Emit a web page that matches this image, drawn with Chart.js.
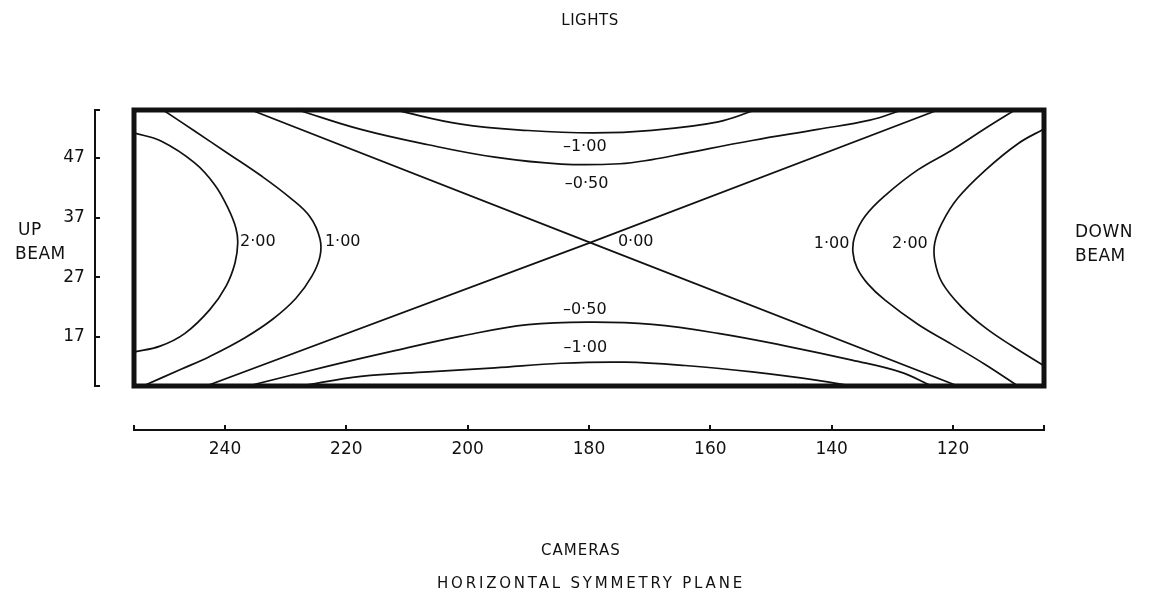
<!DOCTYPE html>
<html>
<head>
<meta charset="utf-8">
<script src="https://cdn.jsdelivr.net/npm/chart.js@4/dist/chart.umd.min.js"></script>
<style>
  html, body { margin: 0; padding: 0; background: #ffffff; }
  canvas { display: block; }
</style>
</head>
<body>
<canvas id="chart" width="1149" height="598"></canvas>
<script>
// Camera angle (horizontal) and beam angle (vertical) extents of the frame
const cameraRange = [105, 255];
const beamRange = [8.8, 55];
const cameraTicks = [255, 240, 220, 200, 180, 160, 140, 120, 105];
const cameraTickLabels = [240, 220, 200, 180, 160, 140, 120];
const beamTicks = [8.8, 17, 27, 37, 47, 55];
const beamTickLabels = [17, 27, 37, 47];

// Contour lines as [camera, beam] pairs
const level200Left = [[255, 51.17], [250.55, 49.8], [244.95, 46.1], [241.65, 42.41], [239.5, 38.56], [238.2, 35.22], [237.9, 32.72], [238.35, 29.39], [239.8, 25.57], [242.5, 21.58], [246.6, 17.61], [250.7, 15.47], [255, 14.5]];
const level100Left = [[250.2, 55], [244.95, 51.43], [239.5, 47.73], [234.1, 44.03], [229.3, 40.33], [226.0, 37.14], [224.35, 33.46], [224.35, 30.46], [225.7, 27.14], [228.3, 23.49], [232.1, 20.01], [236.7, 16.88], [242.5, 13.75], [247.25, 11.6], [253.5, 8.8]];
const level000Falling = [[235.7, 55], [179.8, 32.8], [119.2, 8.8]];
const level000Rising = [[243.1, 8.8], [179.8, 32.8], [122.5, 55]];
const levelM050Upper = [[227.97, 55], [217.6, 51.75], [206.5, 49.18], [195.5, 47.1], [184.6, 45.95], [174.9, 46.0], [169.6, 46.7], [164.2, 47.75], [153.1, 49.9], [142.3, 51.75], [133.7, 53.3], [128.4, 55]];
const levelM100Upper = [[212.0, 55], [201.1, 52.63], [190.05, 51.57], [179.3, 51.17], [169.6, 51.6], [158.7, 53.02], [152.6, 55]];
const levelM050Lower = [[236.2, 8.8], [223.0, 12.12], [212.0, 14.71], [201.1, 17.14], [190.05, 19.07], [179.3, 19.5], [169.6, 19.1], [158.7, 17.61], [147.7, 15.53], [136.65, 13.13], [128.75, 11.16], [123.5, 8.8]];
const levelM100Lower = [[227.5, 8.8], [217.6, 10.42], [206.5, 11.18], [195.5, 11.85], [184.6, 12.61], [174.1, 12.79], [164.2, 12.23], [153.1, 11.15], [142.3, 9.75], [136.65, 8.8]];
const level100Right = [[109.8, 55], [114.7, 51.9], [120.2, 48.27], [125.8, 44.97], [131.2, 40.67], [134.5, 37.2], [136.2, 33.87], [136.5, 31.21], [135.8, 28.54], [134.0, 25.86], [131.2, 23.17], [125.8, 19.14], [120.2, 15.77], [114.7, 12.4], [109.3, 8.8]];
const level200Right = [[105, 51.83], [109.3, 49.36], [114.7, 44.9], [119.2, 40.26], [121.8, 36.11], [123.0, 32.79], [123.0, 29.79], [121.8, 26.11], [118.5, 21.92], [114.7, 18.56], [110.3, 15.53], [105, 12.17]];

// Contour value labels and where they sit (camera, beam)
const labelTexts = ['2·00', '1·00', '0·00', '1·00', '2·00', '–1·00', '–0·50', '–0·50', '–1·00'];
const labelCamera = [234.6, 220.6, 172.3, 140.0, 127.1, 180.7, 180.4, 180.7, 180.6];
const labelBeam = [33.0, 32.9, 32.95, 32.65, 32.6, 48.8, 42.7, 21.5, 15.2];

const INK = '#111111';
const FONT = '"DejaVu Sans", "Liberation Sans", sans-serif';

const toPoints = arr => arr.map(([x, y]) => ({ x, y }));

function contour(data, tension) {
  return {
    data: toPoints(data),
    showLine: true,
    borderColor: INK,
    borderWidth: 1.7,
    pointRadius: 0,
    tension: tension,
    fill: false
  };
}

// Thick frame around the plotted region, traced along the axis limits
const frame = [
  [cameraRange[1], beamRange[0]], [cameraRange[0], beamRange[0]],
  [cameraRange[0], beamRange[1]], [cameraRange[1], beamRange[1]],
  [cameraRange[1], beamRange[0]]
];

const textLayer = {
  id: 'textLayer',
  afterDatasetsDraw(chart) {
    const { ctx, scales: { x, y } } = chart;
    const spacing = v => { if ('letterSpacing' in ctx) ctx.letterSpacing = v; };
    ctx.save();
    ctx.fillStyle = INK;
    ctx.textBaseline = 'middle';

    // contour values
    ctx.font = '16px ' + FONT;
    ctx.textAlign = 'center';
    labelTexts.forEach((t, i) => {
      ctx.fillText(t, x.getPixelForValue(labelCamera[i]), y.getPixelForValue(labelBeam[i]));
    });

    // captions
    ctx.font = '15px ' + FONT;
    spacing('0.5px');
    ctx.fillText('LIGHTS', 590, 21);
    spacing('1px');
    ctx.fillText('CAMERAS', 581, 551);
    spacing('2.8px');
    ctx.fillText('HORIZONTAL SYMMETRY PLANE', 591, 584);

    ctx.font = '17px ' + FONT;
    spacing('0.5px');
    ctx.textAlign = 'left';
    ctx.fillText('UP', 18, 231);
    ctx.fillText('BEAM', 15, 255);
    ctx.fillText('DOWN', 1075, 233);
    ctx.fillText('BEAM', 1075, 257);
    ctx.restore();
  }
};

new Chart(document.getElementById('chart'), {
  type: 'scatter',
  data: {
    datasets: [
      contour(level200Left, 0.4),
      contour(level100Left, 0.4),
      contour(level000Falling, 0),
      contour(level000Rising, 0),
      contour(levelM050Upper, 0.4),
      contour(levelM100Upper, 0.4),
      contour(levelM050Lower, 0.4),
      contour(levelM100Lower, 0.4),
      contour(level100Right, 0.4),
      contour(level200Right, 0.4),
      {
        data: toPoints(frame),
        showLine: true,
        borderColor: INK,
        borderWidth: 5,
        borderJoinStyle: 'miter',
        borderCapStyle: 'square',
        pointRadius: 0,
        tension: 0,
        clip: false
      }
    ]
  },
  options: {
    responsive: false,
    devicePixelRatio: 1,
    animation: false,
    events: [],
    layout: { padding: { left: 134, right: 105, top: 110, bottom: 212 } },
    plugins: { legend: { display: false }, tooltip: { enabled: false } },
    scales: {
      x: {
        type: 'linear',
        reverse: true,
        min: cameraRange[0],
        max: cameraRange[1],
        position: { y: 1.45 },
        afterBuildTicks: s => { s.ticks = cameraTicks.map(v => ({ value: v })); },
        grid: { drawOnChartArea: false, drawTicks: true, tickLength: -6, color: INK, lineWidth: 2 },
        border: { display: true, color: INK, width: 2 },
        ticks: {
          autoSkip: false,
          maxRotation: 0,
          padding: 15,
          color: INK,
          font: { family: FONT, size: 17 },
          callback: v => cameraTickLabels.includes(v) ? String(v) : ''
        }
      },
      y: {
        type: 'linear',
        min: beamRange[0],
        max: beamRange[1],
        position: { x: 261.4 },
        afterBuildTicks: s => { s.ticks = beamTicks.map(v => ({ value: v })); },
        grid: { drawOnChartArea: false, drawTicks: true, tickLength: -6, color: INK, lineWidth: 2 },
        border: { display: true, color: INK, width: 2 },
        ticks: { display: false }
      },
      beamLabels: {
        axis: 'y',
        type: 'linear',
        min: beamRange[0],
        max: beamRange[1],
        position: { x: 263.1 },
        afterBuildTicks: s => { s.ticks = beamTickLabels.map(v => ({ value: v })); },
        grid: { display: false },
        border: { display: false },
        ticks: { padding: 0, color: INK, font: { family: FONT, size: 17 } }
      }
    }
  },
  plugins: [textLayer]
});
</script>
</body>
</html>
